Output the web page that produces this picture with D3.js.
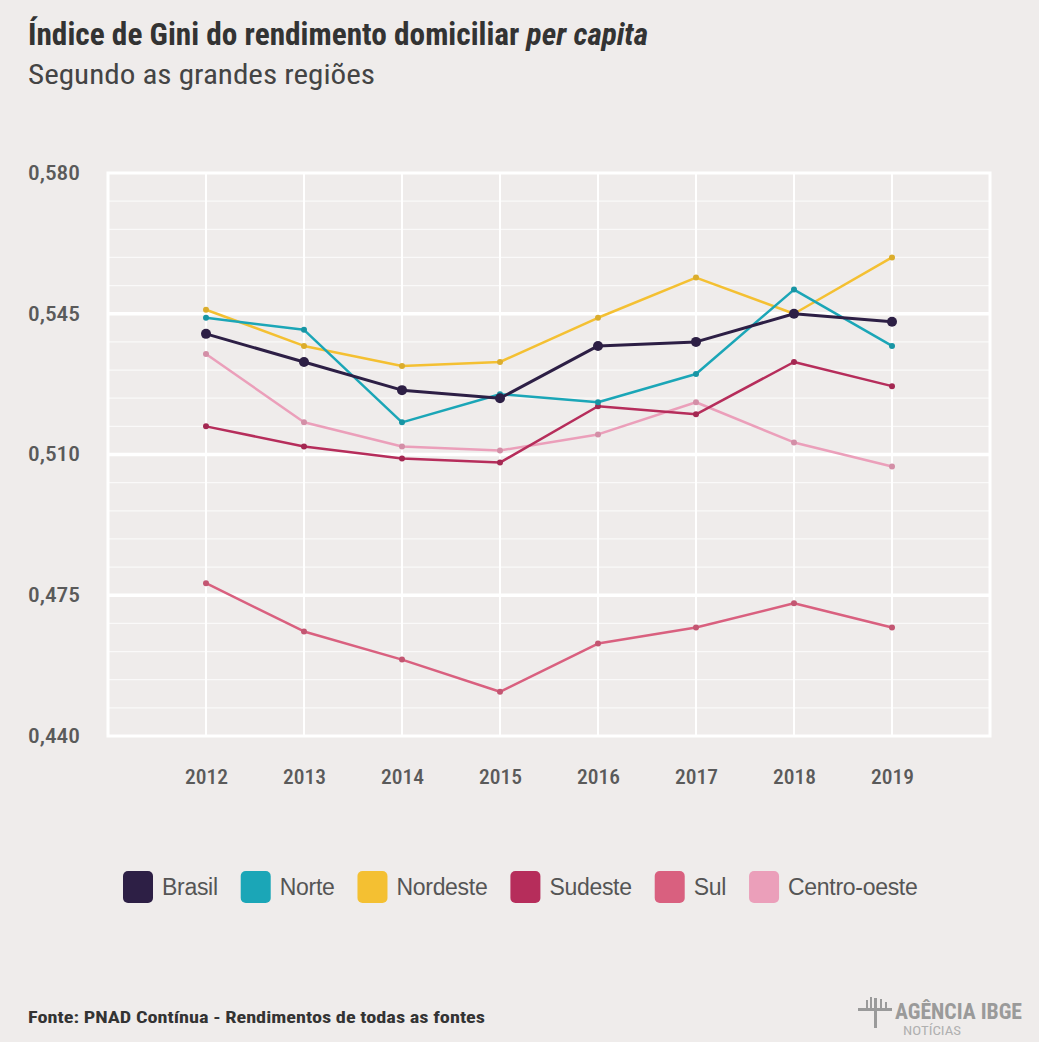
<!DOCTYPE html>
<html>
<head>
<meta charset="utf-8">
<script src="https://cdn.jsdelivr.net/npm/d3@7"></script>
<style>
  body { margin: 0; background: #efeceb; }
  text { font-family: "Roboto Condensed", "Roboto", "DejaVu Sans Condensed", sans-serif; }
  text.legend-label { font-family: "Liberation Sans", Arial, sans-serif; }
</style>
</head>
<body>
<script>
var width = 1039,
    height = 1042,
    margin = { top: 173, right: 49, bottom: 306, left: 108 };

var years = [2012, 2013, 2014, 2015, 2016, 2017, 2018, 2019];
var yTicks = [0.440, 0.475, 0.510, 0.545, 0.580];

var brasil      = [0.540, 0.533, 0.526, 0.524, 0.537, 0.538, 0.545, 0.543];
var norte       = [0.544, 0.541, 0.518, 0.525, 0.523, 0.530, 0.551, 0.537];
var nordeste    = [0.546, 0.537, 0.532, 0.533, 0.544, 0.554, 0.545, 0.559];
var sudeste     = [0.517, 0.512, 0.509, 0.508, 0.522, 0.520, 0.533, 0.527];
var sul         = [0.478, 0.466, 0.459, 0.451, 0.463, 0.467, 0.473, 0.467];
var centroOeste = [0.535, 0.518, 0.512, 0.511, 0.515, 0.523, 0.513, 0.507];

var names  = ["Brasil", "Norte", "Nordeste", "Sudeste", "Sul", "Centro-oeste"];
var colors = ["#2d1f45", "#1ba6b7", "#f4c032", "#b62d5b", "#d9607f", "#eb9fba"];
var series = [brasil, norte, nordeste, sudeste, sul, centroOeste];

var svg = d3.select("body").append("svg")
    .attr("width", width)
    .attr("height", height);

svg.append("rect").attr("width", width).attr("height", height).attr("fill", "#efeceb");

var x = d3.scaleLinear().domain([2011, 2020]).range([margin.left, width - margin.right]),
    y = d3.scaleLinear().domain([0.440, 0.580]).range([height - margin.bottom, margin.top]);

var fmt = function(v) { return d3.format(".3f")(v).replace(".", ","); };

// grid
var grid = svg.append("g");
grid.selectAll(".minor")
    .data(d3.range(0, 21).map(function(i) { return 0.440 + i * 0.007; }))
  .enter().append("line")
    .attr("x1", x(2011)).attr("x2", x(2020))
    .attr("y1", function(d) { return y(d); })
    .attr("y2", function(d) { return y(d); })
    .attr("stroke", "#fff").attr("stroke-opacity", 0.7).attr("stroke-width", 1.2);

grid.selectAll(".vert")
    .data(years)
  .enter().append("line")
    .attr("x1", function(d) { return x(d); }).attr("x2", function(d) { return x(d); })
    .attr("y1", y(0.580)).attr("y2", y(0.440))
    .attr("stroke", "#fff").attr("stroke-width", 2);

grid.selectAll(".major")
    .data(yTicks.slice(1, 4))
  .enter().append("line")
    .attr("x1", x(2011)).attr("x2", x(2020))
    .attr("y1", function(d) { return y(d); })
    .attr("y2", function(d) { return y(d); })
    .attr("stroke", "#fff").attr("stroke-width", 3.5);

grid.append("rect")
    .attr("x", x(2011)).attr("y", y(0.580))
    .attr("width", x(2020) - x(2011)).attr("height", y(0.440) - y(0.580))
    .attr("fill", "none").attr("stroke", "#fff").attr("stroke-width", 3);

// axes
var yAxis = d3.axisLeft(y).tickValues(yTicks).tickFormat(fmt).tickSize(0).tickPadding(0);
svg.append("g")
    .attr("transform", "translate(80,0)")
    .call(yAxis)
    .call(function(g) { g.select(".domain").remove(); })
    .selectAll("text")
    .attr("font-size", 20).attr("font-weight", 500).attr("fill", "#5a5a5a").attr("font-family", null)
    .attr("textLength", 52).attr("lengthAdjust", "spacingAndGlyphs");

var xAxis = d3.axisBottom(x).tickValues(years).tickFormat(d3.format("d")).tickSize(0).tickPadding(0);
svg.append("g")
    .attr("transform", "translate(0,769)")
    .call(xAxis)
    .call(function(g) { g.select(".domain").remove(); })
    .selectAll("text")
    .attr("font-size", 21).attr("font-weight", 500).attr("fill", "#5a5a5a").attr("font-family", null)
    .attr("textLength", 43).attr("lengthAdjust", "spacingAndGlyphs");

// lines
var line = d3.line()
    .x(function(d, i) { return x(years[i]); })
    .y(function(d) { return y(d); });

var order = [5, 4, 3, 2, 1, 0];
order.forEach(function(k) {
    var big = k === 0;
    var g = svg.append("g");
    g.append("path")
        .datum(series[k])
        .attr("d", line)
        .attr("fill", "none")
        .attr("stroke", colors[k])
        .attr("stroke-width", big ? 3 : 2.5)
        .attr("stroke-linejoin", "round");
    g.selectAll("circle")
        .data(series[k])
      .enter().append("circle")
        .attr("cx", function(d, i) { return x(years[i]); })
        .attr("cy", function(d) { return y(d); })
        .attr("r", big ? 5 : 3)
        .attr("fill", d3.color(colors[k]).darker(big ? 0 : 0.3));
});

// titles
var title = svg.append("text")
    .attr("x", 28).attr("y", 45)
    .attr("font-size", 31).attr("font-weight", "bold").attr("fill", "#333")
    .attr("textLength", 620).attr("lengthAdjust", "spacingAndGlyphs");
title.append("tspan").text("Índice de Gini do rendimento domiciliar ");
title.append("tspan").attr("font-style", "italic").text("per capita");

svg.append("text")
    .attr("x", 28).attr("y", 84)
    .attr("font-size", 28).attr("fill", "#444")
    .attr("textLength", 347).attr("lengthAdjust", "spacingAndGlyphs")
    .text("Segundo as grandes regiões");

// legend
var legend = svg.append("g").attr("transform", "translate(0,887)");
var lx = 123;
names.forEach(function(name, i) {
    legend.append("rect")
        .attr("x", lx).attr("y", -16)
        .attr("width", 30).attr("height", 32).attr("rx", 5)
        .attr("fill", colors[i]);
    var t = legend.append("text")
        .attr("class", "legend-label")
        .attr("x", lx + 39).attr("y", 0).attr("dy", "0.35em")
        .attr("font-size", 23).attr("fill", "#555")
        .attr("letter-spacing", -0.3)
        .text(name);
    lx += 39 + t.node().getComputedTextLength() + 23;
});

// footer
svg.append("text")
    .attr("x", 28).attr("y", 1023)
    .attr("font-size", 17).attr("font-weight", "bold").attr("fill", "#333")
    .attr("textLength", 457).attr("lengthAdjust", "spacingAndGlyphs")
    .text("Fonte: PNAD Contínua - Rendimentos de todas as fontes");

var logo = svg.append("g").attr("fill", "#9a9a9a");
logo.append("text")
    .attr("x", 895).attr("y", 1019)
    .attr("font-size", 22).attr("font-weight", "bold")
    .attr("textLength", 127).attr("lengthAdjust", "spacingAndGlyphs")
    .text("AGÊNCIA IBGE");
logo.append("text")
    .attr("x", 903).attr("y", 1035)
    .attr("font-size", 12).attr("fill", "#b0b0b0")
    .attr("textLength", 58).attr("lengthAdjust", "spacingAndGlyphs")
    .text("NOTÍCIAS");
logo.append("rect").attr("x", 858).attr("y", 1008).attr("width", 34).attr("height", 3);
logo.append("rect").attr("x", 874).attr("y", 998).attr("width", 3).attr("height", 30);
logo.append("rect").attr("x", 866).attr("y", 1000).attr("width", 2).attr("height", 10);
logo.append("rect").attr("x", 870).attr("y", 997).attr("width", 2).attr("height", 13);
logo.append("rect").attr("x", 880).attr("y", 999).attr("width", 2).attr("height", 11);
logo.append("rect").attr("x", 885).attr("y", 1002).attr("width", 2).attr("height", 8);
</script>
</body>
</html>
